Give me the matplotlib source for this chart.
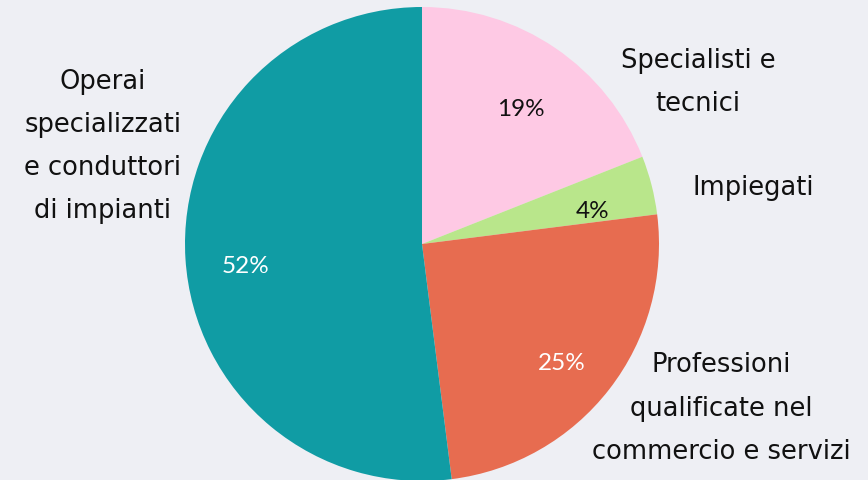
import matplotlib
matplotlib.use("Agg")
import matplotlib.pyplot as plt

# Data
categories = ["Specialisti e\ntecnici", "Impiegati",
              "Professioni\nqualificate nel\ncommercio e servizi",
              "Operai\nspecializzati\ne conduttori\ndi impianti"]
values = [19, 4, 25, 52]
colors = ["#FEC9E4", "#B9E68B", "#E76C50", "#109CA4"]
pct_colors = ["#111111", "#111111", "white", "white"]
# label centre offsets in units of pie radius (layout)
label_pos = [(1.165, 0.685), (1.397, 0.24), (1.262, -0.69), (-1.346, 0.415)]

bg = "#EEEFF4"
W, H, DPI = 868, 481, 100
cx, cy, R = 422, 236, 237  # pixels from left/bottom

fig = plt.figure(figsize=(W / DPI, H / DPI), dpi=DPI, facecolor=bg)
ax = fig.add_axes([0, 0, 1, 1])
ax.set_facecolor(bg)

wedges, texts, autotexts = ax.pie(
    values, colors=colors, startangle=90, counterclock=False,
    autopct=lambda p: f"{p:.0f}%", pctdistance=0.745,
    wedgeprops=dict(linewidth=0),
    textprops=dict(fontsize=17.5, family=["Lato", "DejaVu Sans"]))
for t, c in zip(autotexts, pct_colors):
    t.set_color(c)
    t.set_va("top")

for lab, (lx, ly) in zip(categories, label_pos):
    ax.text(lx, ly, lab, ha="center", va="center", fontsize=18.5,
            family=["DejaVu Sans"], color="#111111", linespacing=1.86,
            multialignment="center")

ax.set_xlim(-cx / R, (W - cx) / R)
ax.set_ylim(-cy / R, (H - cy) / R)
ax.set_aspect("auto")
ax.axis("off")

fig.savefig("out.png", dpi=DPI, facecolor=bg)
